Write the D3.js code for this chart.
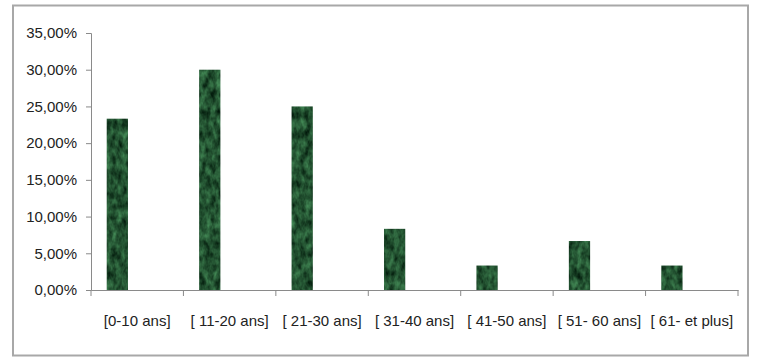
<!DOCTYPE html>
<html><head><meta charset="utf-8">
<script src="https://cdn.jsdelivr.net/npm/d3@7"></script>
<style>
html,body{margin:0;padding:0;background:#fff;}
svg{display:block;}
text{font-family:"Liberation Sans",Arial,sans-serif;fill:#222;}
</style></head><body>
<svg id="chart" width="758" height="358"></svg>
<script>
const categories = ["[0-10 ans]", "[ 11-20 ans]", "[ 21-30 ans]", "[ 31-40 ans]", "[ 41-50 ans]", "[ 51- 60 ans]", "[ 61- et plus]"];
const values = [23.33, 30.0, 25.0, 8.33, 3.33, 6.67, 3.33];
const yTicks = [0, 5, 10, 15, 20, 25, 30, 35];

const svg = d3.select("#chart");
const W = 758, H = 358;
const m = {left: 91, right: 20, top: 33, bottom: 68};

// outer frame
svg.append("rect").attr("x", 13).attr("y", 5.5).attr("width", 735).attr("height", 350)
  .attr("fill", "#fff").attr("stroke", "#a8a8a8").attr("stroke-width", 2);

// texture
const defs = svg.append("defs");
const f = defs.append("filter").attr("id", "tex").attr("x", 0).attr("y", 0).attr("width", 1).attr("height", 1)
  .attr("color-interpolation-filters", "sRGB");
f.append("feTurbulence").attr("type", "fractalNoise").attr("baseFrequency", "0.18 0.1").attr("numOctaves", 3).attr("seed", 7).attr("result", "n");
f.append("feColorMatrix").attr("in", "n").attr("type", "matrix")
  .attr("values", "0.35 0 0 0 -0.04  0.6 0 0 0 0.02  0.4 0 0 0 -0.01  0 0 0 0 1").attr("result", "c");
f.append("feComposite").attr("in", "c").attr("in2", "SourceGraphic").attr("operator", "in");

const x = d3.scaleBand().domain(categories).range([m.left, W - m.right]);
const y = d3.scaleLinear().domain([0, 35]).range([H - m.bottom, m.top]);

const fmt = v => d3.format(".2f")(v).replace(".", ",") + "%";

// y axis
const ya = svg.append("g").attr("transform", `translate(${m.left},0)`)
  .call(d3.axisLeft(y).tickValues(yTicks).tickFormat(fmt).tickSize(5).tickPadding(9));
ya.select(".domain").attr("stroke", "#8a8a8a");
ya.selectAll(".tick line").attr("stroke", "#8a8a8a");
ya.selectAll("text").attr("font-size", 15).attr("fill", "#222");

// bars (left slot of clustered group)
const bw = x.bandwidth() * 0.23;
svg.append("g").selectAll("rect").data(values).join("rect")
  .attr("x", (d, i) => x(categories[i]) + x.bandwidth() * 0.17)
  .attr("y", d => y(d))
  .attr("width", bw)
  .attr("height", d => y(0) - y(d))
  .attr("fill", "#1f4a2e")
  .attr("filter", "url(#tex)");

// x axis
const xa = svg.append("g").attr("transform", `translate(0,${y(0)})`)
  .call(d3.axisBottom(x).tickSize(0).tickPadding(25));
xa.select(".domain").attr("stroke", "#8a8a8a");
xa.selectAll("text").attr("font-size", 15).attr("fill", "#222");
// boundary ticks
const bounds = categories.map(c => x(c)).concat([x.range()[1]]);
xa.selectAll(".bt").data(bounds).join("line").attr("class", "bt")
  .attr("x1", d => d).attr("x2", d => d).attr("y1", 0).attr("y2", 6)
  .attr("stroke", "#8a8a8a");
</script>
</body></html>
